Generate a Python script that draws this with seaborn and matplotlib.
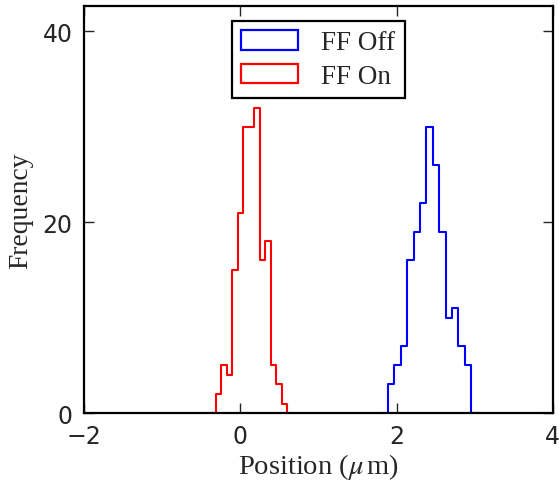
import numpy as np
import pandas as pd
import matplotlib
matplotlib.use("Agg")
import matplotlib.pyplot as plt
import matplotlib.patches as mpatches
import seaborn as sns

# bin counts (13 bins each)
off_counts = [3, 5, 7, 16, 19, 22, 30, 26, 19, 10, 11, 7, 5]
off_range = (1.892, 2.955)
on_counts = [2, 5, 4, 15, 21, 30, 30, 32, 16, 18, 5, 3, 1]
on_range = (-0.314, 0.602)
labels = ['FF Off', 'FF On']
colors = ['#0000ff', '#ff0000']
xticks = [-2, 0, 2, 4]
yticks = [0, 20, 40]

sns.set_style('ticks')
plt.rcParams['font.family'] = ['DejaVu Sans']
plt.rcParams['mathtext.fontset'] = 'stix'
plt.rcParams['xtick.direction'] = 'in'
plt.rcParams['ytick.direction'] = 'in'

def bins_frame(counts, rng):
    edges = np.linspace(rng[0], rng[1], len(counts) + 1)
    w = edges[1] - edges[0]
    # empty bin on each side so the outline drops to the baseline
    edges = np.concatenate([[edges[0] - w], edges, [edges[-1] + w]])
    centers = (edges[:-1] + edges[1:]) / 2
    n = [0] + list(counts) + [0]
    return pd.DataFrame({'pos': centers, 'n': n}), list(edges)

fig = plt.figure(figsize=(5.59, 4.81), dpi=100)
ax = fig.add_axes([0.150, 0.139, 0.839, 0.847])

handles = []
for counts, rng, lab, col in zip([off_counts, on_counts], [off_range, on_range], labels, colors):
    df, edges = bins_frame(counts, rng)
    sns.histplot(data=df, x='pos', weights='n', bins=edges, element='step',
                 fill=False, color=col, linewidth=1.5, ax=ax)
    handles.append(mpatches.Patch(facecolor='none', edgecolor=col, linewidth=1.6, label=lab))

ax.set_xlim(-2, 4)
ax.set_ylim(0, max(on_counts) * 4 / 3)
ax.set_xticks(xticks)
ax.set_yticks(yticks)
ax.tick_params(top=True, right=True, length=7, width=1, labelsize=17, pad=8)
for s in ax.spines.values():
    s.set_linewidth(1.6)
    s.set_color('black')
    s.set_zorder(3)

serif = ['Liberation Serif', 'DejaVu Serif']
ax.set_xlabel(r'Position ($\mu\,$m)', fontsize=20.5, family=serif, labelpad=2)
ax.set_ylabel('Frequency', fontsize=19.8, family=serif, labelpad=7)

leg = ax.legend(handles=handles, loc='upper center', fancybox=False,
                framealpha=1, edgecolor='black', prop={'family': serif, 'size': 19.5},
                handlelength=2.1, handleheight=0.75, borderaxespad=0.55,
                labelspacing=0.3, handletextpad=0.85, borderpad=0.35)
leg.get_frame().set_linewidth(1.6)

fig.savefig('out.png', dpi=100)
